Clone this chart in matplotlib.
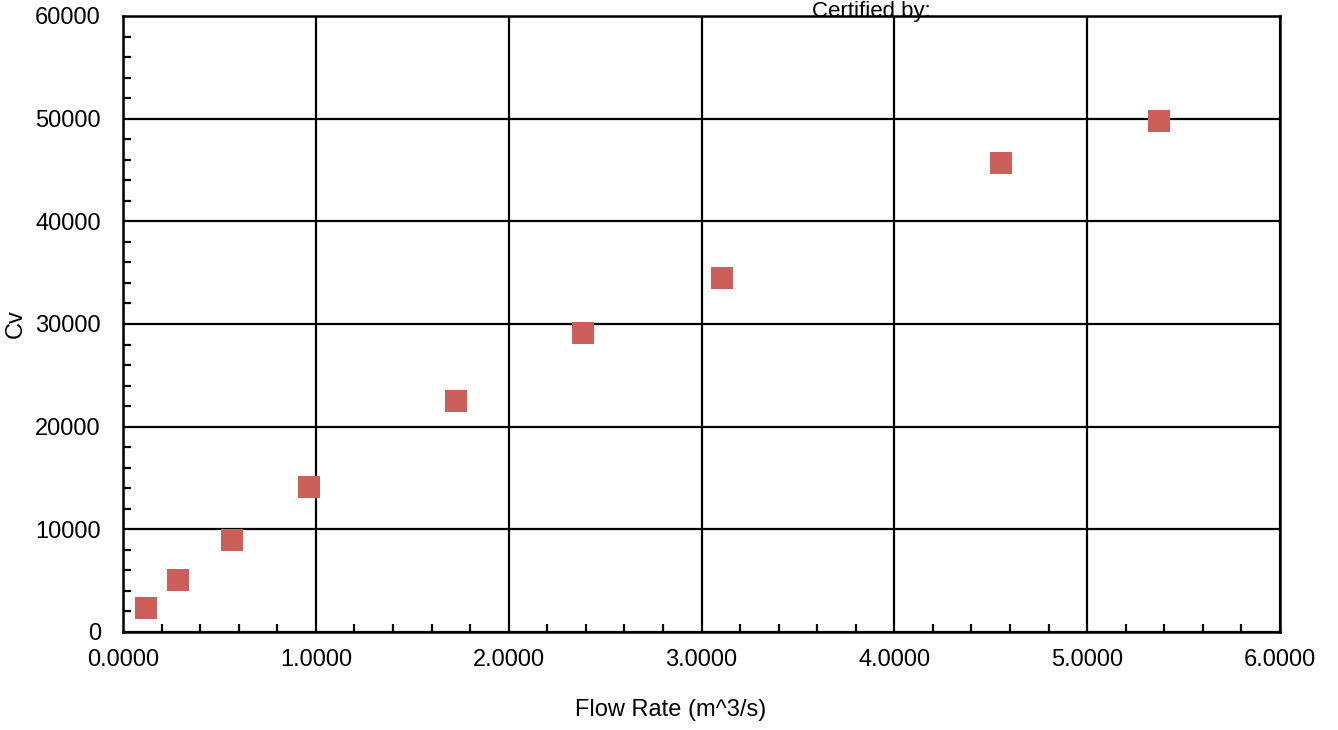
import matplotlib
matplotlib.use('Agg')
import matplotlib.pyplot as plt
from matplotlib.ticker import MultipleLocator, FormatStrFormatter

plt.rcParams['font.family'] = ['Liberation Sans', 'DejaVu Sans']

# data
flow_rate = [0.119, 0.285, 0.565, 0.965, 1.727, 2.386, 3.107, 4.554, 5.373]
cv = [2340, 5060, 8960, 14120, 22500, 29120, 34480, 45680, 49770]

fig = plt.figure(figsize=(13.38, 7.30), dpi=100)
ax = fig.add_axes([123 / 1338, 1 - 632 / 730, 1157 / 1338, 616 / 730])

ax.scatter(flow_rate, cv, marker='s', s=250, color='#CD5F5A',
           edgecolors='none', zorder=5, clip_on=False)

ax.set_xlim(0, 6)
ax.set_ylim(0, 60000)
ax.xaxis.set_major_locator(MultipleLocator(1))
ax.xaxis.set_minor_locator(MultipleLocator(0.2))
ax.yaxis.set_major_locator(MultipleLocator(10000))
ax.yaxis.set_minor_locator(MultipleLocator(2000))
ax.xaxis.set_major_formatter(FormatStrFormatter('%.4f'))

ax.grid(True, which='major', color='black', linewidth=1.6)
ax.tick_params(which='both', direction='in', colors='black', labelsize=17,
               width=1.6)
ax.tick_params(which='major', length=0)
ax.tick_params(which='minor', length=6)
ax.tick_params(axis='y', which='major', pad=16)
ax.tick_params(axis='x', which='major', pad=12)
for s in ax.spines.values():
    s.set_color('black')
    s.set_linewidth(1.8)

ax.set_xlabel('Flow Rate (m^3/s)', fontsize=17, va='center')
ax.xaxis.set_label_coords(0.473, -0.127)
ax.set_ylabel('Cv', fontsize=17, labelpad=6)

# header line above the plot
fig.text(812 / 1338, 1 - 1 / 730, 'Certified by:', fontsize=16,
         va='top', ha='left')

fig.savefig('out.png', dpi=100)
